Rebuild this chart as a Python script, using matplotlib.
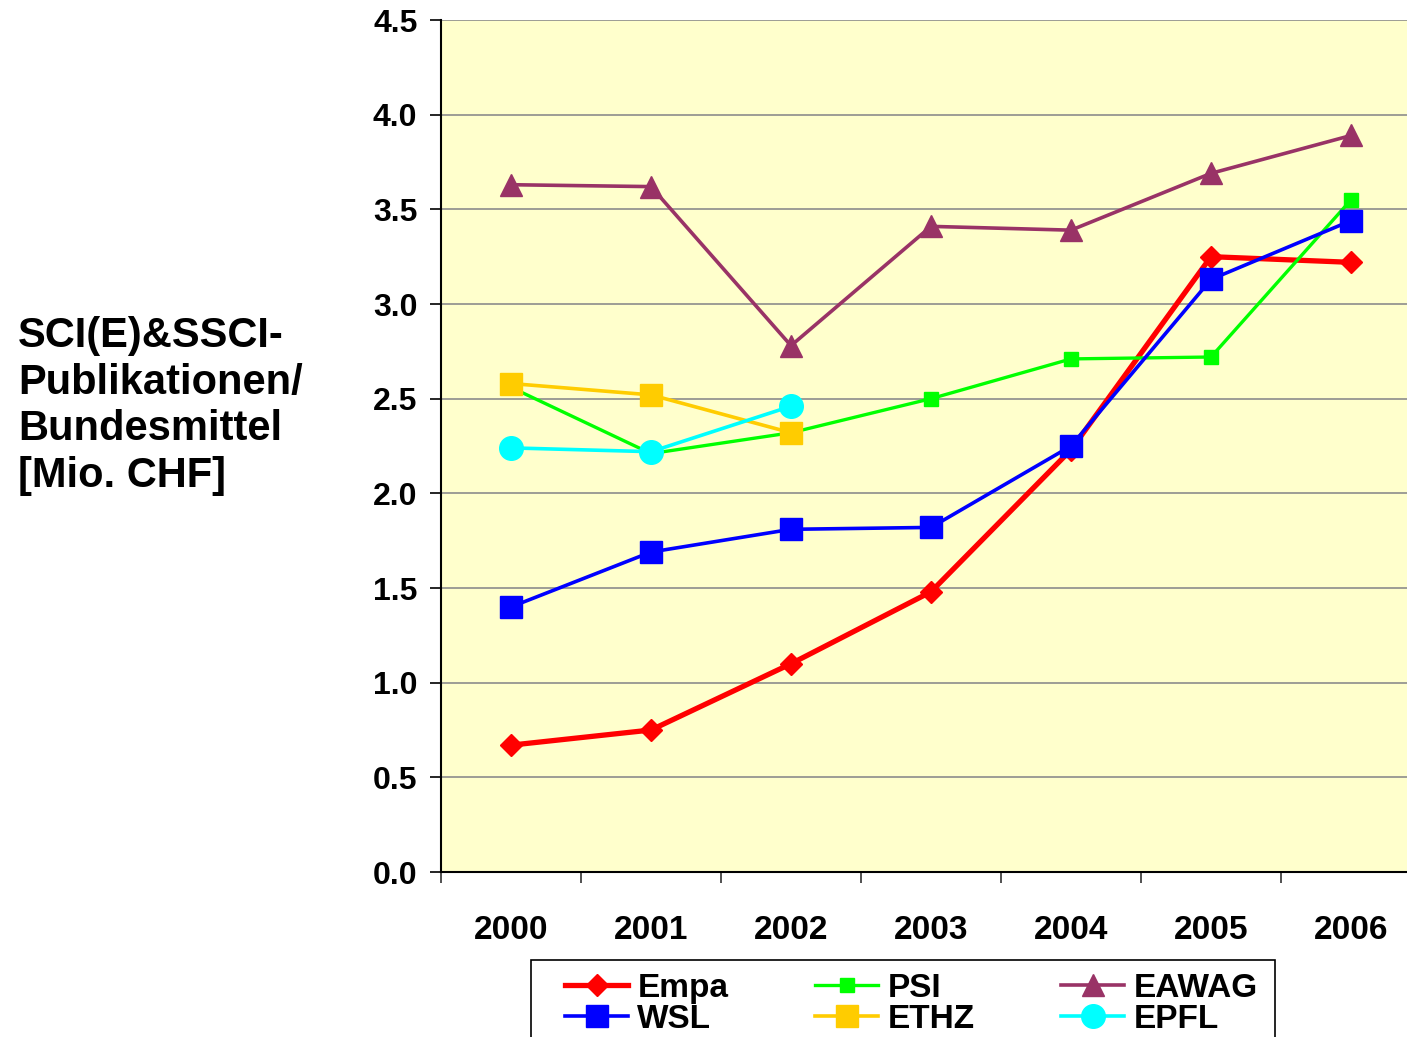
import numpy as np
import matplotlib.pyplot as plt
from matplotlib.patches import Rectangle

plt.rcParams['font.family'] = ['Liberation Sans', 'DejaVu Sans']
plt.rcParams['font.weight'] = 'bold'

years = ["2000", "2001", "2002", "2003", "2004", "2005", "2006"]

empa = [0.67, 0.75, 1.10, 1.48, 2.23, 3.25, 3.22]
psi = [2.56, 2.21, 2.32, 2.50, 2.71, 2.72, 3.55]
eawag = [3.63, 3.62, 2.78, 3.41, 3.39, 3.69, 3.89]
wsl = [1.40, 1.69, 1.81, 1.82, 2.25, 3.13, 3.44]
ethz = [2.58, 2.52, 2.32]
epfl = [2.24, 2.22, 2.46]

W, H = 1407, 1037
fig = plt.figure(figsize=(W / 100, H / 100), dpi=100)
fig.patch.set_facecolor("white")

# plot area runs past the right edge like in the original
ax = fig.add_axes([441 / W, (H - 872) / H, 980 / W, 852 / H])
ax.set_facecolor("#FFFFCC")

x = np.arange(len(years))
x3 = np.arange(3)

h_empa, = ax.plot(x, empa, color="#FF0000", lw=3.8, marker="D", ms=11.5, label="Empa", zorder=3)
h_psi, = ax.plot(x, psi, color="#00FF00", lw=2.4, marker="s", ms=10, label="PSI", zorder=4)
h_eawag, = ax.plot(x, eawag, color="#993366", lw=2.6, marker="^", ms=16.5, label="EAWAG", zorder=5)
h_wsl, = ax.plot(x, wsl, color="#0000FF", lw=2.6, marker="s", ms=16, label="WSL", zorder=6)
h_ethz, = ax.plot(x3, ethz, color="#FFCC00", lw=2.6, marker="s", ms=16, label="ETHZ", zorder=7)
h_epfl, = ax.plot(x3, epfl, color="#00FFFF", lw=2.6, marker="o", ms=17, label="EPFL", zorder=8)

ax.set_xlim(-0.5, 6.5)
ax.set_ylim(0, 4.5)
ax.set_yticks(np.arange(0, 4.51, 0.5))
ax.set_yticklabels([f"{v:.1f}" for v in np.arange(0, 4.51, 0.5)])
ax.yaxis.grid(True, color="#8c8c8c", lw=1.2)
ax.set_axisbelow(True)

ax.set_xticks(x)
ax.set_xticklabels(years)
ax.set_xticks(np.arange(-0.5, 7, 1), minor=True)
ax.tick_params(axis="x", which="major", length=0, pad=31, labelsize=24)
ax.tick_params(axis="x", which="minor", length=8, width=1.2, color="#333333")
ax.tick_params(axis="y", length=8, width=1.2, pad=9, labelsize=23)
for lab in ax.get_xticklabels() + ax.get_yticklabels():
    lab.set_fontweight("bold")

ax.spines["top"].set_visible(False)
ax.spines["right"].set_visible(False)
ax.spines["left"].set_linewidth(1.5)
ax.spines["bottom"].set_linewidth(1.5)

fig.text(18 / W, 1 - 406 / H, "SCI(E)&SSCI-\nPublikationen/\nBundesmittel\n[Mio. CHF]",
         ha="left", va="center", fontsize=30, fontweight="bold", linespacing=1.22)

# legend box, cut at the bottom edge
fig.add_artist(Rectangle((531 / W, -0.05), (1275 - 531) / W, (H - 960) / H + 0.05,
                         transform=fig.transFigure, fill=False, edgecolor="black", lw=1.2))
handles = [h_empa, h_wsl, h_psi, h_ethz, h_eawag, h_epfl]
fig.legend(handles, [h.get_label() for h in handles], ncol=3, loc="upper left",
           bbox_to_anchor=(565 / W, 1 - 973 / H), frameon=False, borderpad=0,
           borderaxespad=0, handlelength=1.9, handletextpad=0.27, columnspacing=2.6,
           labelspacing=0.0, prop={"size": 24, "weight": "bold"})

fig.savefig("out.png", dpi=100)
